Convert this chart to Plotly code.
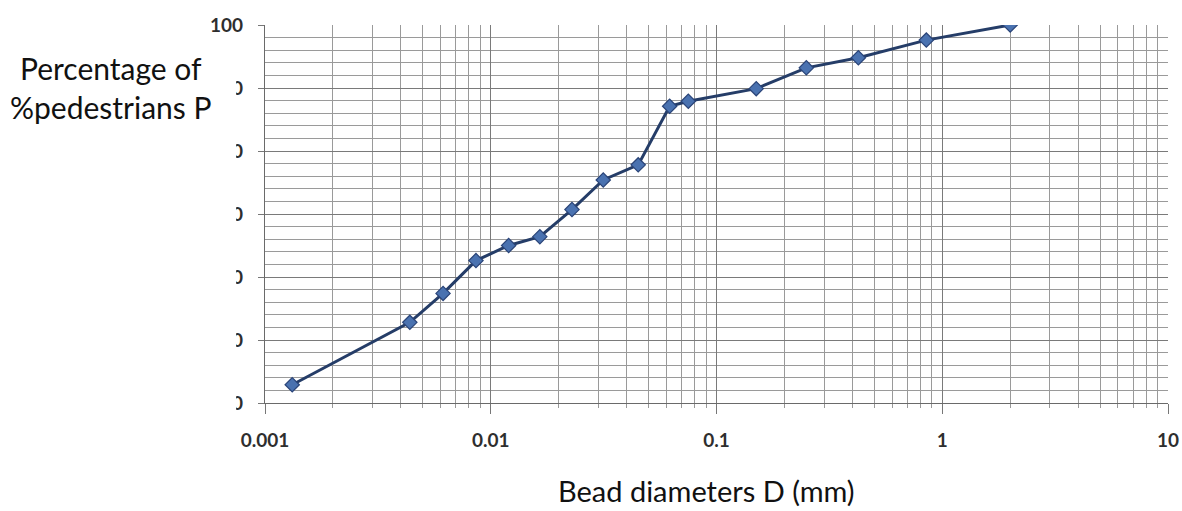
import plotly.graph_objects as go

# Grain-size distribution: bead diameter (mm) vs. percentage passing
diameters_mm = [0.00132, 0.00438, 0.00615, 0.0086, 0.0120, 0.0165, 0.0229,
                0.0315, 0.045, 0.062, 0.075, 0.15, 0.25, 0.425, 0.85, 2.0]
percent_passing = [42.9, 52.8, 57.4, 62.6, 65.0, 66.4, 70.7,
                   75.4, 77.8, 87.1, 87.9, 89.9, 93.2, 94.8, 97.6, 100.0]

x_tick_vals = [0.001, 0.01, 0.1, 1, 10]
x_tick_text = ["0.001", "0.01", "0.1", "1", "10"]
y_tick_vals = [40, 50, 60, 70, 80, 90, 100]

fig = go.Figure()
fig.add_trace(go.Scatter(
    x=diameters_mm, y=percent_passing,
    mode="lines+markers",
    line=dict(color="#253d68", width=3),
    marker=dict(symbol="diamond", size=11, color="#4a72b0",
                line=dict(color="#2a4478", width=1.2)),
    showlegend=False,
))

tick_font = dict(family="Lato, Open Sans, sans-serif", size=19,
                 color="#2e2e2e", weight="bold")

fig.update_xaxes(
    type="log", range=[-3, 1],
    tickvals=x_tick_vals, ticktext=x_tick_text,
    ticks="outside", ticklen=10, tickcolor="#777777",
    ticklabelstandoff=10, automargin=False,
    showgrid=True, gridcolor="#7a7a7a", gridwidth=1.4,
    minor=dict(dtick="D1", showgrid=True, gridcolor="#9a9a9a", gridwidth=1,
               ticks="outside", ticklen=4, tickcolor="#999999"),
    showline=True, linecolor="#6a6a6a", linewidth=1.4,
    zeroline=False, tickfont=tick_font,
)
fig.update_yaxes(
    range=[40, 100],
    tickvals=y_tick_vals,
    ticks="outside", ticklen=6, tickcolor="#777777",
    ticklabelstandoff=11, automargin=False,
    showgrid=True, gridcolor="#7a7a7a", gridwidth=1.4,
    minor=dict(dtick=2, showgrid=True, gridcolor="#9a9a9a", gridwidth=1),
    showline=True, linecolor="#6a6a6a", linewidth=1.4,
    zeroline=False, tickfont=tick_font,
)

# white panel behind the vertical caption
fig.add_shape(type="rect", xref="paper", yref="paper",
              x0=-0.30, x1=-0.032, y0=-0.05, y1=0.965,
              fillcolor="white", line=dict(width=0), layer="above")

caption_font = dict(family="Lato, Open Sans, sans-serif", size=30, color="#111111")
fig.add_annotation(text="Percentage of",
                   xref="paper", yref="paper", x=-0.1704, y=0.886,
                   xanchor="center", yanchor="middle",
                   showarrow=False, font=caption_font)
fig.add_annotation(text="%pedestrians P",
                   xref="paper", yref="paper", x=-0.1704, y=0.783,
                   xanchor="center", yanchor="middle",
                   showarrow=False, font=caption_font)
fig.add_annotation(text="Bead diameters D (mm)",
                   xref="paper", yref="paper", x=0.489, y=-0.283,
                   xanchor="center", yanchor="bottom",
                   showarrow=False, font=dict(caption_font, size=29))

fig.update_layout(
    width=1182, height=511,
    margin=dict(l=265, r=14, t=25, b=108),
    plot_bgcolor="white", paper_bgcolor="white",
)

fig.write_html("out.html")
